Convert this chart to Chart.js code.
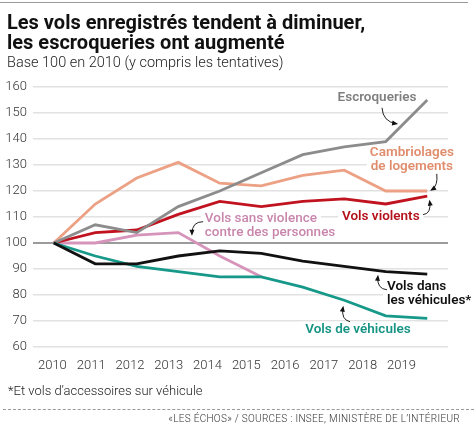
<!DOCTYPE html>
<html lang="fr">
<head>
<meta charset="utf-8">
<script src="https://cdn.jsdelivr.net/npm/chart.js@4/dist/chart.umd.min.js"></script>
<style>
    html, body { margin: 0; padding: 0; background: #fff; }
    #wrap { position: relative; width: 474px; height: 427px; overflow: hidden; font-family: Roboto, sans-serif; }
    #wrap canvas { position: absolute; left: 0; top: 0; }
    .rule { position: absolute; left: 0; top: 2px; width: 468px; border-top: 1px solid #9a9a9a; }
    h1 { position: absolute; left: 7px; top: 12px; margin: 0; font-size: 20px; line-height: 20px; font-weight: 700; color: #111; }
    .sub { position: absolute; left: 7px; top: 54px; font-size: 14.5px; font-weight: 300; color: #222; }
    .note { position: absolute; left: 8px; top: 383px; font-size: 13px; font-weight: 300; color: #222; }
    .dash { position: absolute; left: 3px; top: 409px; width: 471px; border-top: 1px dashed #999; }
    .src { position: absolute; right: 14px; top: 413px; font-size: 10px; letter-spacing: 0.3px; font-weight: 300; color: #333; }
</style>
</head>
<body>
<div id="wrap">
    <canvas id="chart-lines" width="474" height="427"></canvas>
    <div class="rule"></div>
    <h1>Les vols enregistrés tendent à diminuer,<br>les escroqueries ont augmenté</h1>
    <div class="sub">Base 100 en 2010 (y compris les tentatives)</div>
    <div class="note">*Et vols d’accessoires sur véhicule</div>
    <div class="dash"></div>
    <div class="src">«LES ÉCHOS» / SOURCES : INSEE, MINISTÈRE DE L’INTÉRIEUR</div>
</div>
<script>
// données (base 100 en 2010)
const years = [2010, 2011, 2012, 2013, 2014, 2015, 2016, 2017, 2018, 2019];
const yearLabels = ["2010", "2011", "2012", "2013", "2014", "2015", "2016", "2017", "2018", "2019"];
const yTicks = [60, 70, 80, 90, 100, 110, 120, 130, 140, 150, 160];
const escroqueries = [100, 107, 104, 114, 120, 127, 134, 137, 139, 155];
const cambriolages = [100, 115, 125, 131, 123, 122, 126, 128, 120, 120];
const volsViolents = [100, 104, 105, 111, 116, 114, 116, 117, 115, 118];
const volsSansViolence = [100, 100, 103, 104, 95, 87]; // s'arrête en 2015
const volsDansVehicules = [100, 92, 92, 95, 97, 96, 93, 91, 89, 88];
const volsDeVehicules = [100, 95, 91, 89, 87, 87, 83, 78, 72, 71];

const toPoints = (vals) => vals.map((v, i) => ({ x: years[i], y: v }));

// étiquettes posées sur le graphique (coordonnées en années / indice)
const notes = [
    { text: ["Escroqueries"], x: 2017.79, y: 155.9, color: "#7f7f7f", align: "center" },
    { text: ["Cambriolages", "de logements"], x: 2018.63, y: 134.7, color: "#e08d6d", align: "center" },
    { text: ["Vols violents"], x: 2017.88, y: 110.1, color: "#b3121c", align: "center" },
    { text: ["Vols sans violence", "contre des personnes"], x: 2013.64, y: 109.3, color: "#c986ad", align: "left", weight: 500 },
    { text: ["Vols dans", "les véhicules*"], x: 2018.03, y: 83.2, color: "#111", align: "left" },
    { text: ["Vols de véhicules"], x: 2017.33, y: 66.7, color: "#179484", align: "center" }
];
const arrows = [
    { from: [2017.91, 152.0], ctrl: [2017.93, 146.7], to: [2018.25, 145.9] },
    { from: [2019.23, 126.6], ctrl: [2019.26, 122.0], to: [2019.11, 120.5] },
    { from: [2018.90, 110.9], ctrl: [2019.10, 111.3], to: [2019.06, 115.9] },
    { from: [2013.60, 108.2], ctrl: [2013.33, 108.2], to: [2013.33, 103.6] },
    { from: [2018.03, 82.0], ctrl: [2017.78, 82.4], to: [2017.81, 87.0] },
    { from: [2017.14, 69.7], ctrl: [2016.92, 70.5], to: [2016.97, 75.1] }
];

const lineHeight = 14;
const noteFont = (n) => (n.weight || 600) + " 13.5px Roboto";

const notesPlugin = {
    id: "notes",
    beforeDatasetsDraw(chart) {
        // fond blanc derrière les textes (cache les lignes de grille)
        const { ctx, scales } = chart;
        ctx.save();
        notes.forEach(function (n) {
            ctx.font = noteFont(n);
            const px = scales.x.getPixelForValue(n.x);
            const py = scales.y.getPixelForValue(n.y);
            n.text.forEach(function (t, i) {
                const w = ctx.measureText(t).width;
                const left = n.align === "center" ? px - w / 2 : px;
                ctx.fillStyle = "#fff";
                ctx.fillRect(left - 4, py + i * lineHeight - 8, w + 8, 16);
            });
        });
        ctx.restore();
    },
    afterDatasetsDraw(chart) {
        const { ctx, scales } = chart;
        ctx.save();
        ctx.textBaseline = "middle";
        notes.forEach(function (n) {
            ctx.font = noteFont(n);
            ctx.fillStyle = n.color;
            ctx.textAlign = n.align;
            const px = scales.x.getPixelForValue(n.x);
            const py = scales.y.getPixelForValue(n.y);
            n.text.forEach(function (t, i) {
                ctx.fillText(t, px, py + i * lineHeight);
            });
        });
        // petites flèches courbes
        ctx.strokeStyle = "#222";
        ctx.fillStyle = "#111";
        ctx.lineWidth = 1;
        arrows.forEach(function (a) {
            const p = (pt) => [scales.x.getPixelForValue(pt[0]), scales.y.getPixelForValue(pt[1])];
            const f = p(a.from), c = p(a.ctrl), t = p(a.to);
            ctx.beginPath();
            ctx.moveTo(f[0], f[1]);
            ctx.quadraticCurveTo(c[0], c[1], t[0], t[1]);
            ctx.stroke();
            const ang = Math.atan2(t[1] - c[1], t[0] - c[0]);
            ctx.beginPath();
            ctx.moveTo(t[0] + 2 * Math.cos(ang), t[1] + 2 * Math.sin(ang));
            ctx.lineTo(t[0] - 4 * Math.cos(ang) + 2.5 * Math.sin(ang), t[1] - 4 * Math.sin(ang) - 2.5 * Math.cos(ang));
            ctx.lineTo(t[0] - 4 * Math.cos(ang) - 2.5 * Math.sin(ang), t[1] - 4 * Math.sin(ang) + 2.5 * Math.cos(ang));
            ctx.closePath();
            ctx.fill();
        });
        ctx.restore();
    }
};

const line = (label, vals, color) => ({
    label: label,
    data: toPoints(vals),
    borderColor: color,
    backgroundColor: color,
    borderWidth: 2.8,
    pointRadius: 0,
    tension: 0,
    borderJoinStyle: "miter"
});

var ctx = document.getElementById("chart-lines").getContext("2d");
new Chart(ctx, {
    type: "line",
    data: {
        datasets: [
            line("Vols dans les véhicules", volsDansVehicules, "#111111"),
            line("Vols de véhicules", volsDeVehicules, "#17998a"),
            line("Escroqueries", escroqueries, "#8c8c8c"),
            line("Vols violents", volsViolents, "#c0131f"),
            line("Vols sans violence contre des personnes", volsSansViolence, "#d694bb"),
            line("Cambriolages de logements", cambriolages, "#eca084")
        ]
    },
    options: {
        responsive: false,
        animation: false,
        layout: { padding: { top: 87, right: 26, bottom: 50, left: 0 } },
        plugins: {
            legend: { display: false },
            tooltip: { enabled: false }
        },
        scales: {
            x: {
                type: "linear",
                min: 2009.5,
                max: 2019.5,
                display: false
            },
            // axe des années tel qu'il est imprimé (espacement propre)
            xl: {
                type: "linear",
                position: "bottom",
                min: 2009.5,
                max: 2020.2,
                afterBuildTicks: function (scale) {
                    scale.ticks = years.map((v) => ({ value: v }));
                },
                afterFit: function (scale) { scale.height = 30; },
                grid: { display: false, drawTicks: false },
                border: { display: false },
                ticks: {
                    padding: 11,
                    maxRotation: 0,
                    autoSkip: false,
                    color: "#333",
                    font: { size: 13, weight: 300, family: "Roboto" },
                    callback: function (value) { return yearLabels[years.indexOf(value)]; }
                }
            },
            y: {
                min: 60,
                max: 160,
                afterBuildTicks: function (scale) {
                    scale.ticks = yTicks.map((v) => ({ value: v }));
                },
                afterFit: function (scale) { scale.width = 33; },
                border: { display: false },
                grid: {
                    drawTicks: false,
                    color: (c) => c.tick && c.tick.value === 100 ? "#9b9b9b" : "#e2e2e2",
                    lineWidth: (c) => c.tick && c.tick.value === 100 ? 2 : 1.6
                },
                ticks: {
                    padding: 6,
                    color: "#333",
                    font: { size: 13, weight: 300, family: "Roboto" }
                }
            }
        }
    },
    plugins: [notesPlugin]
});
</script>
</body>
</html>
